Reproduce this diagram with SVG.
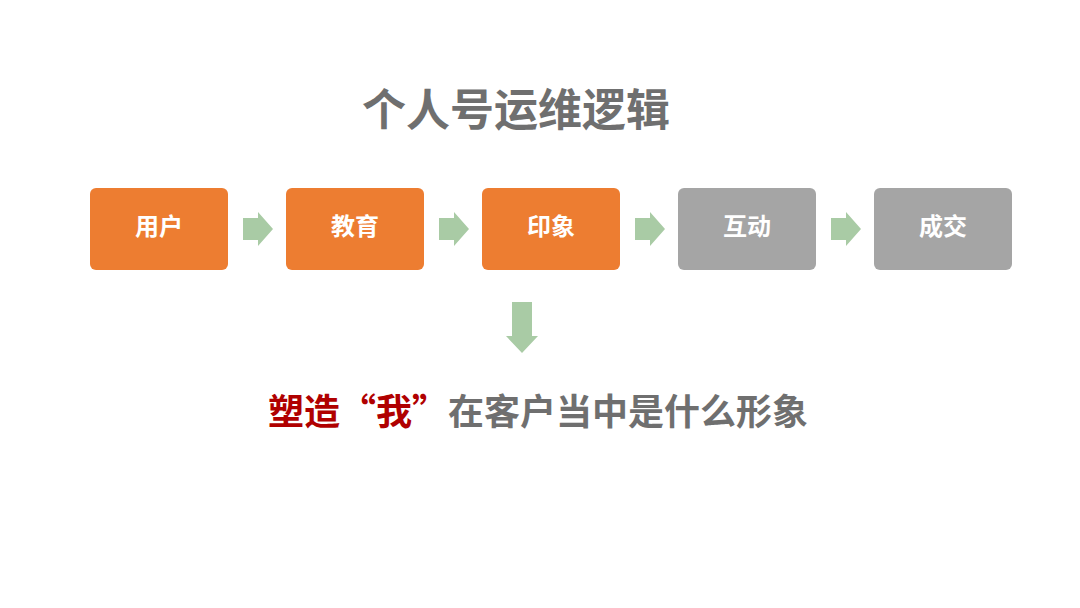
<svg xmlns="http://www.w3.org/2000/svg" width="1080" height="608" viewBox="0 0 1080 608">
<style>
text{font-family:"Noto Sans CJK SC","Noto Sans CJK JP",sans-serif;font-weight:bold}
.box-o{fill:#ED7D31}
.box-g{fill:#A5A5A5}
.lbl{fill:#ffffff;font-size:24px;text-anchor:middle}
.arr{fill:#A9CBA5}
</style>
<defs>
<polygon id="ra" points="0,6 15,6 15,0 30,17 15,34 15,28 0,28"/>
</defs>
<rect width="1080" height="608" fill="#ffffff"/>
<text x="516" y="126" font-size="44" fill="#6F6F6F" text-anchor="middle">个人号运维逻辑</text>
<g id="n1"><rect class="box-o" x="90" y="188" width="138" height="82" rx="6"/><text class="lbl" x="159" y="235">用户</text></g>
<g id="n2"><rect class="box-o" x="286" y="188" width="138" height="82" rx="6"/><text class="lbl" x="355" y="235">教育</text></g>
<g id="n3"><rect class="box-o" x="482" y="188" width="138" height="82" rx="6"/><text class="lbl" x="551" y="235">印象</text></g>
<g id="n4"><rect class="box-g" x="678" y="188" width="138" height="82" rx="6"/><text class="lbl" x="747" y="235">互动</text></g>
<g id="n5"><rect class="box-g" x="874" y="188" width="138" height="82" rx="6"/><text class="lbl" x="943" y="235">成交</text></g>
<g id="connectors">
<use href="#ra" class="arr" x="243" y="212"/>
<use href="#ra" class="arr" x="439" y="212"/>
<use href="#ra" class="arr" x="635" y="212"/>
<use href="#ra" class="arr" x="831" y="212"/>
<polygon class="arr" points="512,302 532,302 532,336 538,336 522,353 506,336 512,336"/>
</g>
<g id="caption">
<text x="268" y="425" font-size="36" fill="#6F6F6F"><tspan fill="#B00000">塑造“我”</tspan>在客户当中是什么形象</text>
</g>
</svg>
